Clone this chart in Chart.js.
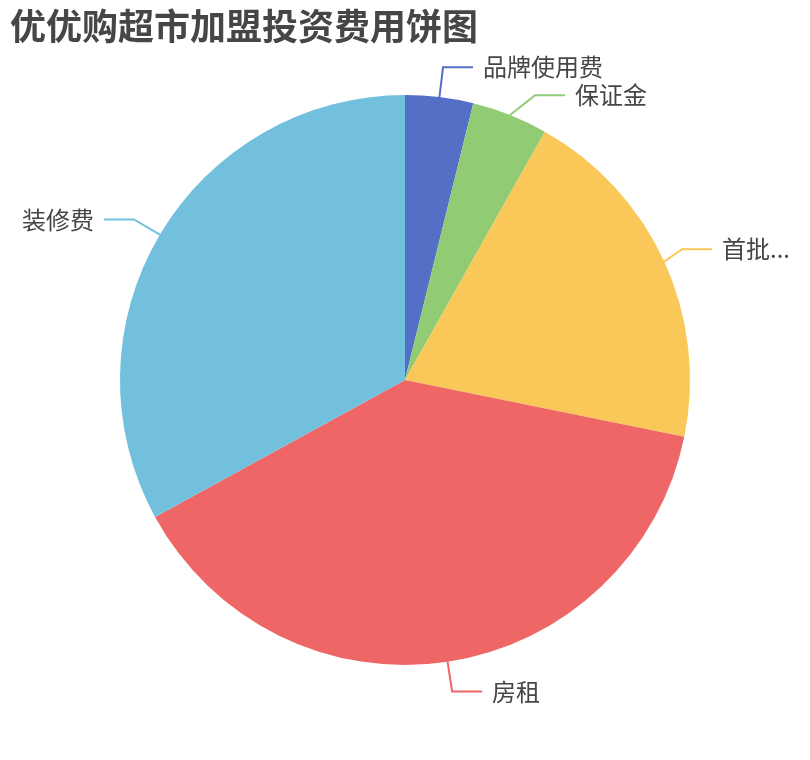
<!DOCTYPE html>
<html>
<head>
<meta charset="utf-8">
<script src="https://cdn.jsdelivr.net/npm/chart.js@4.4.0/dist/chart.umd.min.js"></script>
<style>
  html, body { margin: 0; padding: 0; background: #ffffff; }
  #wrap { position: relative; width: 810px; height: 760px; }
</style>
</head>
<body>
<div id="wrap"><canvas id="c" width="810" height="760"></canvas></div>
<script>
const titleText = '优优购超市加盟投资费用饼图';
const categories = ['品牌使用费', '保证金', '首批...', '房租', '装修费'];
const values = [2.5, 2.8, 13, 25.2, 21.4];
const colors = ['#5470c6', '#91cc75', '#fac858', '#ee6666', '#73c0de'];

const FONT = '"Noto Sans CJK SC", "Noto Sans", sans-serif';
const TEXT_COLOR = '#464646';

const pieLabels = {
  id: 'pieLabels',
  afterDraw(chart) {
    const ctx = chart.ctx;
    const W = chart.width;
    // title
    ctx.save();
    ctx.fillStyle = TEXT_COLOR;
    ctx.font = 'bold 36px ' + FONT;
    ctx.textBaseline = 'middle';
    ctx.textAlign = 'left';
    ctx.fillText(titleText, 10, 26);
    ctx.restore();

    const meta = chart.getDatasetMeta(0);
    const L1 = 30, L2 = 30, GAP = 10, MIN_GAP = 28, EDGE = 20;
    ctx.save();
    ctx.font = '24px ' + FONT;
    const items = meta.data.map((arc, i) => {
      const mid = (arc.startAngle + arc.endAngle) / 2;
      const r = arc.outerRadius;
      const R = r + L1;
      return {
        i, arc, mid,
        sx: arc.x + Math.cos(mid) * r,
        sy: arc.y + Math.sin(mid) * r,
        ex: arc.x + Math.cos(mid) * R,
        ey: arc.y + Math.sin(mid) * R,
        R, cx: arc.x, cy: arc.y,
        right: Math.cos(mid) >= 0,
        text: categories[i],
        w: ctx.measureText(categories[i]).width
      };
    });
    // overlap avoidance per side
    [true, false].forEach(side => {
      const list = items.filter(it => it.right === side).sort((a, b) => a.ey - b.ey);
      for (let k = 1; k < list.length; k++) {
        const prev = list[k - 1], cur = list[k];
        if (cur.ey - prev.ey < MIN_GAP) {
          cur.ey = prev.ey + MIN_GAP;
          const dy = cur.ey - cur.cy;
          const R2 = cur.R - 2;
          if (Math.abs(dy) < R2) {
            const dx = Math.sqrt(R2 * R2 - dy * dy);
            cur.ex = cur.cx + (side ? dx : -dx);
          }
        }
      }
    });
    items.forEach(it => {
      const dir = it.right ? 1 : -1;
      let hx = it.ex + dir * L2;
      let tx = hx + dir * GAP;
      // keep label inside canvas
      if (it.right && tx + it.w > W - EDGE) {
        const shift = tx + it.w - (W - EDGE);
        it.ex -= shift; hx -= shift; tx -= shift;
      } else if (!it.right && tx - it.w < EDGE) {
        const shift = EDGE - (tx - it.w);
        it.ex += shift; hx += shift; tx += shift;
      }
      ctx.strokeStyle = colors[it.i];
      ctx.lineWidth = 2;
      ctx.beginPath();
      ctx.moveTo(it.sx, it.sy);
      ctx.lineTo(it.ex, it.ey);
      ctx.lineTo(hx, it.ey);
      ctx.stroke();
      ctx.fillStyle = TEXT_COLOR;
      ctx.textBaseline = 'middle';
      ctx.textAlign = it.right ? 'left' : 'right';
      ctx.fillText(it.text, tx, it.ey);
    });
    ctx.restore();
  }
};

new Chart(document.getElementById('c'), {
  type: 'pie',
  data: {
    labels: categories,
    datasets: [{
      data: values,
      backgroundColor: colors,
      borderWidth: 0,
      hoverOffset: 0,
      offset: 0
    }]
  },
  options: {
    responsive: false,
    animation: false,
    devicePixelRatio: 1,
    events: [],
    layout: { padding: { left: 120, right: 120, top: 95, bottom: 95 } },
    plugins: {
      legend: { display: false },
      tooltip: { enabled: false },
      title: { display: false }
    }
  },
  plugins: [pieLabels]
});
</script>
</body>
</html>
